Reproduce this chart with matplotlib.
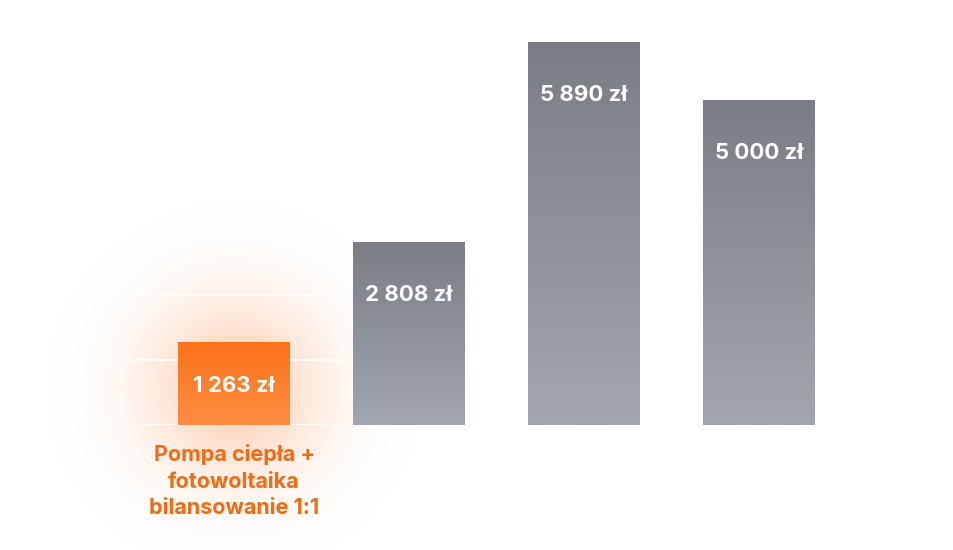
import numpy as np
import matplotlib
matplotlib.use("Agg")
import matplotlib.pyplot as plt
from matplotlib.colors import to_rgb

# --------------- data ---------------
values = [1263, 2808, 5890, 5000]
value_labels = ["1 263 zł", "2 808 zł", "5 890 zł", "5 000 zł"]
highlight_label = "Pompa ciepła +\nfotowoltaika\nbilansowanie 1:1"
grid_ticks = [0, 1000, 2000, 3000, 4000, 5000, 6000]

W, H = 954, 550
plt.rcParams['font.family'] = ['Inter', 'DejaVu Sans']

fig = plt.figure(figsize=(W / 100, H / 100), dpi=100)
fig.patch.set_facecolor("white")

# background layer for the glow
bg = fig.add_axes([0, 0, 1, 1], zorder=0)
bg.set_axis_off()

ax = fig.add_axes([90 / W, 125 / H, 813 / W, 390 / H], zorder=1)
ax.patch.set_alpha(0)
x = np.arange(len(values))
for s in ax.spines.values():
    s.set_visible(False)
ax.set_xticks([])
ax.set_yticks([])

# grid lines, almost white (only show up over the glow)
for g in grid_ticks:
    ax.axhline(g, color="#fffefa", lw=1.3, zorder=1)

bar_w = 0.64


def vgrad(top, bottom, n=200):
    t = np.linspace(0, 1, n)[:, None]
    a, b = np.array(to_rgb(top)), np.array(to_rgb(bottom))
    return (a * (1 - t) + b * t)[:, None, :].repeat(2, axis=1)


for i, v in enumerate(values):
    if i == 0:
        img = vgrad("#fb721a", "#fd8d42")
    else:
        img = vgrad("#7a7d84", "#a1a6b1")
    ax.imshow(img, extent=(x[i] - bar_w / 2, x[i] + bar_w / 2, 0, v),
              aspect="auto", origin="upper", zorder=2, interpolation="bilinear")
    off = -38 if v > 2000 else -31
    ax.annotate(value_labels[i], (x[i], v), xytext=(0, off), textcoords="offset points",
                ha="center", va="center", color="white", fontsize=16,
                fontweight="bold", zorder=3)

ax.set_xlim(-0.823, 3.823)
ax.set_ylim(0, 6000)

ax.text(x[0], -290, highlight_label, ha="center", va="top", color="#f26b10",
        fontsize=15.5, fontweight="bold", linespacing=1.42, zorder=3)

# soft glow around the highlighted bar
fig.canvas.draw()
cx, cy = ax.transData.transform((x[0], values[0] * 0.45))
yy, xx = np.mgrid[0:H, 0:W]
py = H - yy  # pixel from bottom
r = np.sqrt((xx - cx) ** 2 + (py - cy) ** 2)
alpha = 0.38 * np.exp(-(r / 88.0) ** 2)
glow = np.zeros((H, W, 4))
glow[..., :3] = to_rgb("#f7883f")
glow[..., 3] = alpha
bg.imshow(glow, extent=(0, 1, 0, 1), aspect="auto", origin="upper")
bg.set_xlim(0, 1)
bg.set_ylim(0, 1)

fig.savefig("out.png", dpi=100, facecolor="white")
